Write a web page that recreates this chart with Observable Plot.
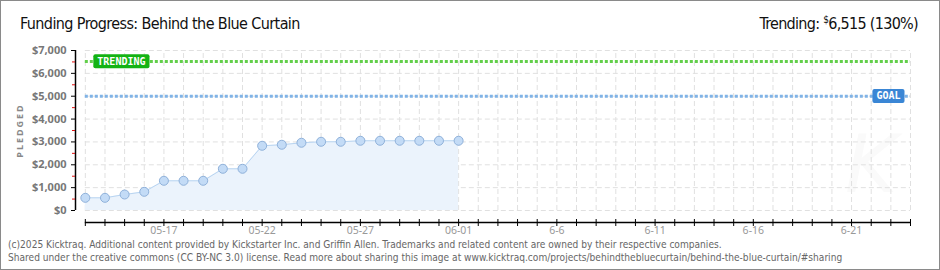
<!DOCTYPE html>
<html><head><meta charset="utf-8">
<script src="https://cdn.jsdelivr.net/npm/d3@7"></script>
<script src="https://cdn.jsdelivr.net/npm/@observablehq/plot@0.6"></script>
<style>
html,body{margin:0;padding:0;background:#fff;}
#wrap{position:relative;width:940px;height:270px;overflow:hidden;font-family:"DejaVu Sans",sans-serif;}
#wrap svg{position:absolute;left:0;top:0;}
#border{position:absolute;left:0;top:0;width:940px;height:270px;box-sizing:border-box;border:1px solid #8a8a8a;pointer-events:none;}
#title{position:absolute;left:20px;top:14px;font-size:16px;color:#111;font-family:"DejaVu Sans Condensed","Liberation Sans Narrow",sans-serif;font-weight:300;letter-spacing:-0.6px;white-space:nowrap;}
#trend{position:absolute;right:22px;top:14px;font-size:16px;color:#111;font-family:"DejaVu Sans Condensed","Liberation Sans Narrow",sans-serif;letter-spacing:-0.7px;white-space:nowrap;}
#trend sup{font-size:10px;vertical-align:6px;}
#foot{position:absolute;left:8px;top:239px;font-size:10.1px;line-height:12.5px;color:#666;font-family:"DejaVu Sans Condensed","DejaVu Sans",sans-serif;white-space:nowrap;}
#wm{position:absolute;left:845px;top:118px;font-size:80px;font-style:italic;color:#fafafa;font-family:"DejaVu Sans",sans-serif;}
</style>
</head><body>
<div id="wrap">
  <div id="wm">K</div>
  <div id="chart"></div>
  <div id="title"></div>
  <div id="trend"></div>
  <div id="foot"></div>
  <div id="border"></div>
</div>
<script>
// ---- data ----
const titleText = "Funding Progress: Behind the Blue Curtain";
const trendLabel = "Trending:";
const trendValueText = "6,515";
const trendPctText = "(130%)";
const footLines = [
  "(c)2025 Kicktraq. Additional content provided by Kickstarter Inc. and Griffin Allen. Trademarks and related content are owned by their respective companies.",
  "Shared under the creative commons (CC BY-NC 3.0) license. Read more about sharing this image at www.kicktraq.com/projects/behindthebluecurtain/behind-the-blue-curtain/#sharing"
];
const dates = ["2025-05-13","2025-05-14","2025-05-15","2025-05-16","2025-05-17","2025-05-18","2025-05-19","2025-05-20","2025-05-21","2025-05-22",
               "2025-05-23","2025-05-24","2025-05-25","2025-05-26","2025-05-27","2025-05-28","2025-05-29","2025-05-30","2025-05-31","2025-06-01"];
const pledged = [555,555,700,818,1300,1300,1300,1825,1825,2832,2876,2964,3007,3007,3051,3051,3051,3051,3051,3051];
const goal = 5000;
const trending = 6515;
const axisStart = "2025-05-13";
const axisEnd = "2025-06-24";
const yTicks = [0,1000,2000,3000,4000,5000,6000,7000];
const yMinorTicks = [500,1500,2500,3500,4500,5500,6500];
const xLabelDates = ["2025-05-17","2025-05-22","2025-05-27","2025-06-01","2025-06-06","2025-06-11","2025-06-16","2025-06-21"];
const xLabels = ["05-17","05-22","05-27","06-01","6-6","6-11","6-16","6-21"];
const yAxisTitle = "PLEDGED";

// ---- build ----
const parse = s => new Date(s + "T00:00:00Z");
const data = dates.map((d, i) => ({date: parse(d), value: pledged[i]}));
const x0 = parse(axisStart), x1 = parse(axisEnd);
const days = d3.utcDay.range(x0, d3.utcDay.offset(x1, 1));
const labelMap = new Map(xLabelDates.map((d, i) => [+parse(d), xLabels[i]]));
const yMin = -525;
const axisX0 = d3.utcHour.offset(x0, -12);
const gridStyle = {stroke: "#e0e0e0", strokeDasharray: "5,3", strokeWidth: 1};

const chart = Plot.plot({
  width: 940, height: 270,
  marginLeft: 75, marginRight: 30, marginTop: 50, marginBottom: 48,
  x: {type: "utc", domain: [axisX0, x1], axis: null},
  y: {domain: [yMin, 7000], axis: null},
  style: {background: "transparent", overflow: "visible"},
  marks: [
    Plot.ruleY(yTicks, {x1: x0, x2: x1, ...gridStyle}),
    Plot.ruleX(days, {y1: 0, y2: 7000, ...gridStyle}),
    Plot.areaY(data, {x: "date", y: "value", fill: "#ebf3fc"}),
    Plot.lineY(data, {x: "date", y: "value", stroke: "#b8d4f1", strokeWidth: 1}),
    Plot.ruleY([trending], {x1: x0, x2: x1, stroke: "#62cf4a", strokeWidth: 3, strokeDasharray: "3,2"}),
    Plot.ruleY([goal], {x1: x0, x2: x1, stroke: "#80b3e6", strokeWidth: 3, strokeDasharray: "3,2"}),
    Plot.dot(data, {x: "date", y: "value", r: 4.5, fill: "#c3dbf6", stroke: "#8fb1da", strokeWidth: 1}),
    // y axis
    Plot.ruleX([axisX0], {y1: 0, y2: 7000, stroke: "#000", strokeWidth: 1.5}),
    Plot.axisY(yMinorTicks, {anchor: "left", label: null, tickSize: 3, stroke: "#e01010", tickFormat: () => ""}),
    Plot.axisY(yTicks, {anchor: "left", label: null, tickSize: 4, tickPadding: 5, stroke: "#000", fill: "#777",
      fontSize: 11, fontWeight: "bold", tickFormat: d => "$" + d3.format(",")(d)}),
    Plot.text([yAxisTitle], {x: axisX0, y: 3500, text: d => d, rotate: -90, dx: -55, fill: "#888",
      fontSize: 9, fontWeight: "bold", className: "ytitle"}),
    // x axis
    Plot.ruleY([yMin], {x1: x0, x2: x1, stroke: "#000", strokeWidth: 1.5}),
    Plot.axisX(days, {anchor: "bottom", label: null, tickSize: 7, dy: -3, stroke: "#000", tickFormat: () => ""}),
    Plot.axisX(xLabelDates.map(parse), {anchor: "bottom", label: null, tickSize: 0, tickPadding: 4, fill: "#999",
      fontSize: 10.5, tickFormat: d => labelMap.get(+d)}),
    // labels
    Plot.text([{date: x0, value: trending}], {x: "date", y: "value", text: () => "TRENDING", dx: 12,
      textAnchor: "start", fill: "#fff", fontSize: 10, fontWeight: "bold", fontFamily: "DejaVu Sans Mono",
      className: "lbl-trend"}),
    Plot.text([{date: x1, value: goal}], {x: "date", y: "value", text: () => "GOAL", dx: -10,
      textAnchor: "end", fill: "#fff", fontSize: 10, fontWeight: "bold", fontFamily: "DejaVu Sans Mono",
      className: "lbl-goal"})
  ]
});
document.getElementById("chart").appendChild(chart);

// label backgrounds
function boxes(cls, color) {
  chart.querySelectorAll("." + cls + " text").forEach(t => {
    const b = t.getBBox();
    const r = document.createElementNS("http://www.w3.org/2000/svg", "rect");
    r.setAttribute("x", b.x - 4); r.setAttribute("y", b.y - 1.5);
    r.setAttribute("width", b.width + 8); r.setAttribute("height", b.height + 3);
    r.setAttribute("rx", 2); r.setAttribute("fill", color);
    if (t.getAttribute("transform")) r.setAttribute("transform", t.getAttribute("transform"));
    t.parentNode.insertBefore(r, t);
  });
}
boxes("lbl-trend", "#14b314");
boxes("lbl-goal", "#3a86d5");
chart.querySelectorAll(".ytitle text").forEach(t => t.setAttribute("letter-spacing", "2"));

document.getElementById("title").textContent = titleText;
document.getElementById("trend").innerHTML = trendLabel + " <sup>$</sup>" + trendValueText + " " + trendPctText;
document.getElementById("foot").innerHTML = footLines.join("<br>");
</script>
</body></html>
